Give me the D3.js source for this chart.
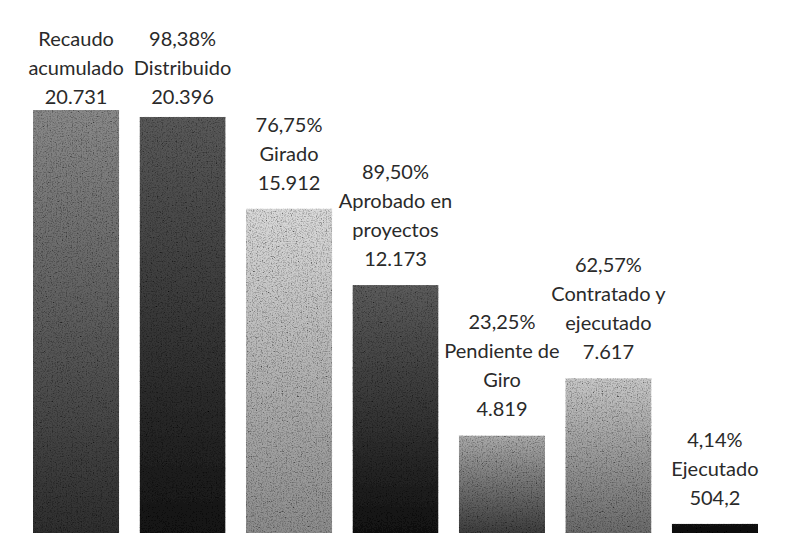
<!DOCTYPE html>
<html>
<head>
<meta charset="utf-8">
<script src="https://cdn.jsdelivr.net/npm/d3@7"></script>
<style>
  html, body { margin: 0; padding: 0; background: #fff; }
  svg { display: block; }
</style>
</head>
<body>
<svg id="chart"></svg>
<script>
// data
const categories = ['Recaudo\nacumulado', 'Distribuido', 'Girado', 'Aprobado en\nproyectos', 'Pendiente de\nGiro', 'Contratado y\nejecutado', 'Ejecutado'];
const values = [20731, 20396, 15912, 12173, 4819, 7617, 504.2];
const percents = [null, 98.38, 76.75, 89.50, 23.25, 62.57, 4.14];

// grey tones of each bar, top -> bottom
const shades = [
    ['#8a8a8a', '#2e2e2e'],
    ['#5a5a5a', '#141414'],
    ['#dadada', '#8c8c8c'],
    ['#5c5c5c', '#111111'],
    ['#ababab', '#3c3c3c'],
    ['#c8c8c8', '#6a6a6a'],
    ['#141414', '#0a0a0a']
];

const width = 791, height = 533;
const fontSize = 20, lineH = 29, gap = 19, minTopBaseline = 46;

const es = d3.formatLocale({ decimal: ',', thousands: '.', grouping: [3], currency: ['$', ''] });
const fmtVal = es.format(',.1~f');
const fmtPct = es.format('.2f');

const svg = d3.select('#chart')
    .attr('width', width)
    .attr('height', height);

const x = d3.scaleBand()
    .domain(categories)
    .range([33, 758])
    .paddingInner(0.19)
    .paddingOuter(0);

const y = d3.scaleLinear()
    .domain([0, d3.max(values)])
    .range([534, 110]);

const defs = svg.append('defs');
shades.forEach((s, i) => {
    const g = defs.append('linearGradient')
        .attr('id', 'grad' + i)
        .attr('x1', 0).attr('y1', 0).attr('x2', 0).attr('y2', 1);
    g.append('stop').attr('offset', '0%').attr('stop-color', s[0]);
    g.append('stop').attr('offset', '100%').attr('stop-color', s[1]);
});

// scan-like grain
const grain = defs.append('filter').attr('id', 'grain')
    .attr('x', 0).attr('y', 0).attr('width', 1).attr('height', 1);
grain.append('feTurbulence')
    .attr('type', 'fractalNoise')
    .attr('baseFrequency', 0.8)
    .attr('numOctaves', 2)
    .attr('seed', 3)
    .attr('result', 'noise');
grain.append('feColorMatrix')
    .attr('in', 'noise')
    .attr('type', 'matrix')
    .attr('values', '1 1 1 0 -0.6  1 1 1 0 -0.6  1 1 1 0 -0.6  0 0 0 0 1')
    .attr('result', 'grey');
grain.append('feBlend')
    .attr('in', 'SourceGraphic')
    .attr('in2', 'grey')
    .attr('mode', 'multiply')
    .attr('result', 'mixed');
grain.append('feComposite')
    .attr('in', 'mixed')
    .attr('in2', 'SourceGraphic')
    .attr('operator', 'in');

const rows = categories.map((c, i) => ({
    cat: c,
    value: values[i],
    pct: percents[i],
    i: i
}));

svg.append('g')
    .selectAll('rect')
    .data(rows)
    .join('rect')
    .attr('x', d => x(d.cat))
    .attr('y', d => y(d.value))
    .attr('width', x.bandwidth())
    .attr('height', d => y(0) - y(d.value))
    .attr('fill', d => `url(#grad${d.i})`)
    .attr('filter', 'url(#grain)');

// labels: percent, name, value stacked above each bar
const labels = svg.append('g')
    .attr('font-family', 'Lato, "Open Sans", sans-serif')
    .attr('font-size', fontSize + 'px')
    .attr('fill', '#2a2a2a')
    .attr('text-anchor', 'middle');

rows.forEach(d => {
    const lines = [];
    if (d.pct != null) lines.push(fmtPct(d.pct) + '%');
    d.cat.split('\n').forEach(l => lines.push(l));
    lines.push(fmtVal(d.value));

    let bottom = y(d.value) - gap;
    bottom = Math.max(bottom, minTopBaseline + (lines.length - 1) * lineH);
    const cx = x(d.cat) + x.bandwidth() / 2;

    const t = labels.append('text');
    lines.forEach((l, k) => {
        t.append('tspan')
            .attr('x', cx)
            .attr('y', bottom - (lines.length - 1 - k) * lineH)
            .text(l);
    });
});
</script>
</body>
</html>
